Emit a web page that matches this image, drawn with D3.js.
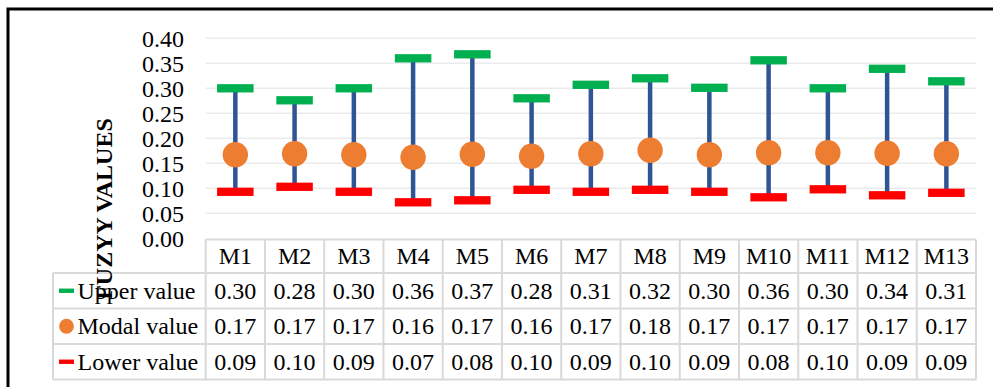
<!DOCTYPE html>
<html>
<head>
<meta charset="utf-8">
<script src="https://cdn.jsdelivr.net/npm/d3@7"></script>
<style>
  html, body { margin: 0; padding: 0; background: #fff; overflow: hidden; }
  svg { display: block; }
  text { font-family: "Liberation Serif", "Times New Roman", serif; fill: #000; }
</style>
</head>
<body>
<svg id="chart" width="993" height="387"></svg>
<script>
const categories = ["M1","M2","M3","M4","M5","M6","M7","M8","M9","M10","M11","M12","M13"];
const upperValues = [0.300, 0.276, 0.300, 0.360, 0.368, 0.280, 0.307, 0.320, 0.301, 0.356, 0.300, 0.339, 0.314];
const modalValues = [0.167, 0.169, 0.167, 0.162, 0.168, 0.164, 0.169, 0.176, 0.167, 0.171, 0.171, 0.170, 0.169];
const lowerValues = [0.093, 0.103, 0.093, 0.072, 0.076, 0.097, 0.093, 0.097, 0.093, 0.082, 0.098, 0.086, 0.091];
const yTicks = [0, 0.05, 0.10, 0.15, 0.20, 0.25, 0.30, 0.35, 0.40];
const seriesNames = ["Upper value", "Modal value", "Lower value"];
const yTitle = "FUZYY VALUES";

const colors = { upper: "#00B050", modal: "#ED7D31", lower: "#FF0000", whisker: "#2F5597" };

const svg = d3.select("#chart");
const fmt = d3.format(".2f");

const x = d3.scaleBand().domain(categories).range([205.7, 976]).padding(0);
const y = d3.scaleLinear().domain([0, 0.4]).range([238.3, 38.3]);

// outer frame
svg.append("rect").attr("x", 8).attr("y", 9).attr("width", 1100).attr("height", 500)
  .attr("fill", "none").attr("stroke", "#000").attr("stroke-width", 3);

// gridlines
svg.append("g").selectAll("line").data(yTicks.slice(1)).join("line")
  .attr("x1", x.range()[0]).attr("x2", x.range()[1])
  .attr("y1", d => y(d)).attr("y2", d => y(d))
  .attr("stroke", "#ebebeb").attr("stroke-width", 1.6);

// y axis labels
const yAxis = d3.axisLeft(y).tickValues(yTicks).tickFormat(fmt).tickSize(0).tickPadding(0);
const yg = svg.append("g").attr("transform", "translate(184,0)").call(yAxis);
yg.select(".domain").remove();
yg.selectAll("text").attr("font-size", 24).attr("font-family", "Liberation Serif").attr("fill", "#000").attr("dy", "0.33em");

// data rows
const data = categories.map((c, i) => ({ c, up: upperValues[i], mo: modalValues[i], lo: lowerValues[i] }));
const cx = d => x(d.c) + x.bandwidth() / 2;

const marks = svg.append("g");
marks.selectAll("line.wh").data(data).join("line").attr("class", "wh")
  .attr("x1", cx).attr("x2", cx).attr("y1", d => y(d.lo)).attr("y2", d => y(d.up))
  .attr("stroke", colors.whisker).attr("stroke-width", 4.5);
const capW = 36.5, capH = 8.3;
marks.selectAll("rect.up").data(data).join("rect").attr("class", "up")
  .attr("x", d => cx(d) - capW / 2).attr("y", d => y(d.up) - capH / 2)
  .attr("width", capW).attr("height", capH).attr("fill", colors.upper);
marks.selectAll("rect.lo").data(data).join("rect").attr("class", "lo")
  .attr("x", d => cx(d) - capW / 2).attr("y", d => y(d.lo) - capH / 2)
  .attr("width", capW).attr("height", capH).attr("fill", colors.lower);
marks.selectAll("circle").data(data).join("circle")
  .attr("cx", cx).attr("cy", d => y(d.mo)).attr("r", 12.7).attr("fill", colors.modal);

// data table
const rowTops = [239.5, 273, 308.5, 344, 379.5];
const tableLeft = 53, colL = x.range()[0], colR = x.range()[1];
const tg = svg.append("g");
const gridC = "#d9d9d9", gridW = 2;
tg.append("line").attr("x1", colL).attr("x2", colR).attr("y1", rowTops[0]).attr("y2", rowTops[0])
  .attr("stroke", gridC).attr("stroke-width", gridW);
tg.selectAll("line.h").data(rowTops.slice(1)).join("line").attr("class", "h")
  .attr("x1", tableLeft).attr("x2", colR).attr("y1", d => d).attr("y2", d => d)
  .attr("stroke", gridC).attr("stroke-width", gridW);
const colEdges = categories.map(c => x(c)).concat([colR]);
tg.selectAll("line.v").data(colEdges).join("line").attr("class", "v")
  .attr("x1", d => d).attr("x2", d => d).attr("y1", rowTops[0]).attr("y2", rowTops[4])
  .attr("stroke", gridC).attr("stroke-width", gridW);
tg.append("line").attr("x1", tableLeft).attr("x2", tableLeft).attr("y1", rowTops[1]).attr("y2", rowTops[4])
  .attr("stroke", gridC).attr("stroke-width", gridW);

const rowMid = i => (rowTops[i] + rowTops[i + 1]) / 2;
const fs = 24;
tg.selectAll("text.hd").data(categories).join("text").attr("class", "hd")
  .attr("x", c => x(c) + x.bandwidth() / 2).attr("y", rowMid(0)).attr("dy", "0.33em")
  .attr("text-anchor", "middle").attr("font-size", fs).text(c => c);
const rows = [upperValues, modalValues, lowerValues];
rows.forEach((vals, r) => {
  tg.selectAll("text.r" + r).data(vals).join("text").attr("class", "r" + r)
    .attr("x", (v, i) => x(categories[i]) + x.bandwidth() / 2).attr("y", rowMid(r + 1)).attr("dy", "0.33em")
    .attr("text-anchor", "middle").attr("font-size", fs).text(v => fmt(v));
  tg.append("text").attr("x", 77.5).attr("y", rowMid(r + 1)).attr("dy", "0.33em")
    .attr("font-size", fs).text(seriesNames[r]);
});
tg.append("rect").attr("x", 59).attr("y", rowMid(1) - 2.2).attr("width", 15).attr("height", 4.4).attr("fill", colors.upper);
tg.append("circle").attr("cx", 66.5).attr("cy", rowMid(2)).attr("r", 7.4).attr("fill", colors.modal);
tg.append("rect").attr("x", 59).attr("y", rowMid(3) - 2.2).attr("width", 15).attr("height", 4.4).attr("fill", colors.lower);

// y title
svg.append("text").attr("transform", "translate(112,209) rotate(-90)")
  .attr("text-anchor", "middle").attr("font-size", 24).attr("font-weight", "bold").text(yTitle);
</script>
</body>
</html>
